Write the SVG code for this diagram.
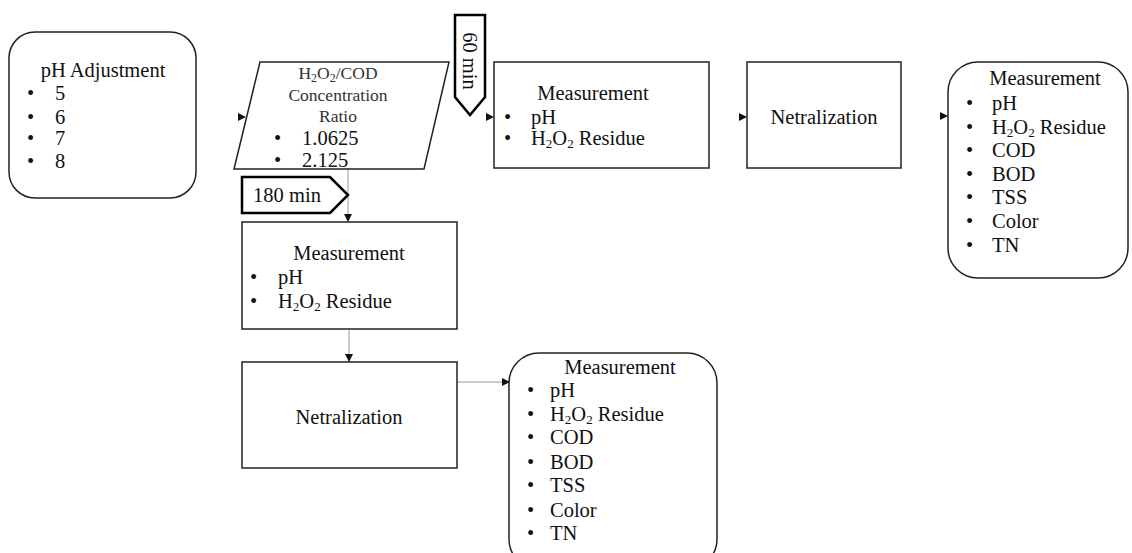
<svg xmlns="http://www.w3.org/2000/svg" width="1132" height="553" viewBox="0 0 1132 553">
<defs>
<style>
text{font-family:"Liberation Serif","Times New Roman",serif;fill:#111;font-size:20.5px}
.c{text-anchor:middle}
.s{font-size:17.5px;fill:#333}
.sub{font-size:13px}
.box{fill:#fff;stroke:#222;stroke-width:1.5}
.tag{fill:#fff;stroke:#000;stroke-width:2.5}
.hid{stroke:#fff;stroke-width:1;fill:none}
.ln{stroke:#9a9a9a;stroke-width:1;fill:none}
</style>
<marker id="ah" viewBox="0 0 8 8" refX="8" refY="4" markerWidth="8" markerHeight="8" markerUnits="userSpaceOnUse" orient="auto">
<path d="M0,0 L8,4 L0,8 Z" fill="#111"/>
</marker>
</defs>
<rect width="1132" height="553" fill="#fff"/>

<g id="connectors">
<line class="hid" x1="196" y1="117" x2="246" y2="117" marker-end="url(#ah)"/>
<line class="hid" x1="437" y1="117" x2="494" y2="117" marker-end="url(#ah)"/>
<line class="hid" x1="709" y1="117" x2="747" y2="117" marker-end="url(#ah)"/>
<line class="hid" x1="901" y1="116" x2="948" y2="116" marker-end="url(#ah)"/>
<line class="ln" x1="348" y1="169" x2="348" y2="222" marker-end="url(#ah)"/>
<line class="ln" x1="349" y1="329" x2="349" y2="362" marker-end="url(#ah)"/>
<line class="ln" x1="457" y1="382" x2="510" y2="382" marker-end="url(#ah)"/>
</g>

<g id="ph-adjustment">
<rect class="box" x="9" y="32" width="187" height="166" rx="26" ry="26"/>
<text class="c" x="103" y="77">pH Adjustment</text>
<text x="27" y="100">•</text><text x="55" y="100">5</text>
<text x="27" y="124">•</text><text x="55" y="124">6</text>
<text x="27" y="145">•</text><text x="55" y="145">7</text>
<text x="27" y="168">•</text><text x="55" y="168">8</text>
</g>

<g id="ratio">
<polygon class="box" points="260,62 449,62 424,169 234,169"/>
<text class="c s" x="338" y="79">H<tspan font-size="12" dy="3">2</tspan><tspan dy="-3">O</tspan><tspan font-size="12" dy="3">2</tspan><tspan dy="-3">/COD</tspan></text>
<text class="c s" x="338" y="101">Concentration</text>
<text class="c s" x="338" y="122">Ratio</text>
<text x="274" y="145">•</text><text x="302" y="145">1.0625</text>
<text x="274" y="167">•</text><text x="302" y="167">2.125</text>
</g>

<g id="t60">
<polygon class="tag" points="455,15 485,15 485,97 470,115 455,97"/>
<text class="c" transform="translate(463,61) rotate(90)">60 min</text>
</g>

<g id="t180">
<polygon class="tag" points="242,177 330,177 348,195 330,213 242,213"/>
<text class="c" x="287" y="202">180 min</text>
</g>

<g id="measure1">
<rect class="box" x="494" y="62" width="215" height="106"/>
<text class="c" x="593" y="100">Measurement</text>
<text x="504" y="124">•</text><text x="531" y="124">pH</text>
<text x="504" y="145">•</text><text x="531" y="145">H<tspan class="sub" dy="3">2</tspan><tspan dy="-3">O</tspan><tspan class="sub" dy="3">2</tspan><tspan dy="-3"> Residue</tspan></text>
</g>

<g id="neutral1">
<rect class="box" x="747" y="62" width="154" height="106"/>
<text class="c" x="824" y="124">Netralization</text>
</g>

<g id="final1">
<rect class="box" x="948" y="62" width="180" height="216" rx="30" ry="30"/>
<text class="c" x="1045" y="85">Measurement</text>
<text x="966" y="110">•</text><text x="992" y="110">pH</text>
<text x="966" y="134">•</text><text x="992" y="134">H<tspan class="sub" dy="3">2</tspan><tspan dy="-3">O</tspan><tspan class="sub" dy="3">2</tspan><tspan dy="-3"> Residue</tspan></text>
<text x="966" y="157">•</text><text x="992" y="157">COD</text>
<text x="966" y="181">•</text><text x="992" y="181">BOD</text>
<text x="966" y="204">•</text><text x="992" y="204">TSS</text>
<text x="966" y="228">•</text><text x="992" y="228">Color</text>
<text x="966" y="252">•</text><text x="992" y="252">TN</text>
</g>

<g id="measure2">
<rect class="box" x="242" y="222" width="215" height="107"/>
<text class="c" x="349" y="260">Measurement</text>
<text x="250" y="284">•</text><text x="278" y="284">pH</text>
<text x="250" y="308">•</text><text x="278" y="308">H<tspan class="sub" dy="3">2</tspan><tspan dy="-3">O</tspan><tspan class="sub" dy="3">2</tspan><tspan dy="-3"> Residue</tspan></text>
</g>

<g id="neutral2">
<rect class="box" x="242" y="362" width="215" height="106"/>
<text class="c" x="349" y="424">Netralization</text>
</g>

<g id="final2">
<rect class="box" x="509" y="353" width="208" height="216" rx="30" ry="30"/>
<text class="c" x="620" y="374">Measurement</text>
<text x="527" y="397">•</text><text x="550" y="397">pH</text>
<text x="527" y="421">•</text><text x="550" y="421">H<tspan class="sub" dy="3">2</tspan><tspan dy="-3">O</tspan><tspan class="sub" dy="3">2</tspan><tspan dy="-3"> Residue</tspan></text>
<text x="527" y="444">•</text><text x="550" y="444">COD</text>
<text x="527" y="469">•</text><text x="550" y="469">BOD</text>
<text x="527" y="492">•</text><text x="550" y="492">TSS</text>
<text x="527" y="517">•</text><text x="550" y="517">Color</text>
<text x="527" y="540">•</text><text x="550" y="540">TN</text>
</g>
</svg>
